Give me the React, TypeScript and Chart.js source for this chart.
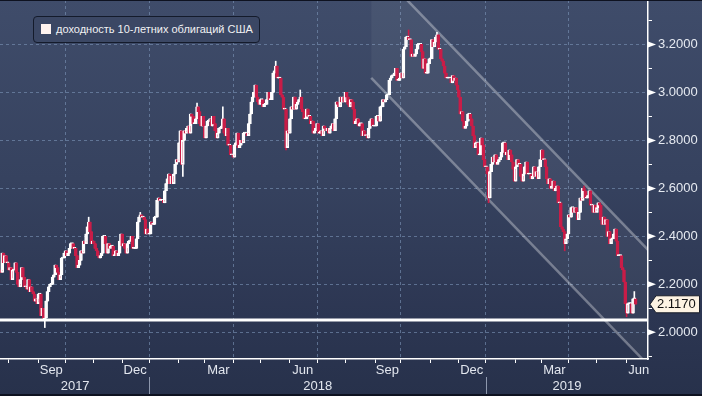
import React, { useEffect, useRef } from "react";
import { Chart, registerables } from "chart.js";

Chart.register(...registerables);

// ---------------- DATA ----------------
// US 10-year yield, daily closes in hundredths of a percent (226 = 2.26%)
const firstDate = "2017-07-24";
const calendarEnd = "2019-06-28";
const firstOpen = 226;

const closesJul2017 = [225, 233, 229, 232, 229, 229];
const closesAug2017 = [226, 227, 222, 226, 226, 229, 225, 220, 219, 222, 227, 223, 219, 219, 218, 222, 217, 219, 217, 216, 213, 214, 212];
const closesSep2017 = [216, 216, 207, 210, 205, 206, 213, 217, 219, 220, 220, 223, 224, 228, 227, 225, 222, 224, 231, 231, 233];
const closesOct2017 = [234, 232, 233, 235, 237, 237, 235, 235, 232, 227, 228, 230, 234, 233, 238, 237, 241, 244, 246, 242, 237, 238];
const closesNov2017 = [237, 235, 234, 232, 231, 232, 233, 240, 240, 237, 233, 237, 235, 236, 236, 232, 232, 234, 232, 233, 238, 241];
const closesDec2017 = [236, 237, 235, 233, 237, 238, 238, 240, 235, 235, 235, 239, 246, 248, 249, 248, 248, 247, 241, 243, 241];
const closesJan2018 = [241, 246, 245, 245, 248, 248, 255, 256, 255, 255, 255, 254, 259, 262, 264, 266, 262, 265, 262, 266, 270, 272, 271];
const closesFeb2018 = [279, 284, 270, 280, 284, 283, 285, 286, 283, 291, 290, 287, 287, 289, 294, 292, 287, 286, 290, 286];
const closesMar2018 = [281, 286, 288, 288, 289, 286, 290, 287, 284, 281, 283, 285, 285, 286, 289, 283, 282, 285, 278, 278, 274, 274];
const closesApr2018 = [273, 278, 279, 283, 277, 278, 280, 279, 283, 283, 283, 282, 287, 291, 296, 298, 300, 303, 298, 296, 295];
const closesMay2018 = [297, 297, 294, 295, 295, 297, 300, 297, 297, 300, 308, 309, 311, 306, 306, 306, 299, 298, 293, 293, 277, 284, 283];
const closesJun2018 = [289, 294, 293, 298, 293, 295, 296, 297, 298, 293, 292, 289, 289, 293, 290, 290, 287, 288, 283, 284, 285];
const closesJul2018 = [287, 283, 283, 284, 282, 286, 285, 284, 285, 283, 285, 286, 287, 284, 289, 296, 295, 294, 298, 296, 298, 296];
const closesAug2018 = [300, 298, 295, 294, 297, 296, 293, 287, 288, 289, 286, 287, 287, 282, 284, 282, 282, 281, 285, 288, 289, 286, 286];
const closesSep2018 = [286, 290, 290, 288, 294, 294, 297, 296, 297, 299, 299, 305, 306, 307, 307, 308, 310, 305, 305, 306];
const closesOct2018 = [308, 306, 318, 319, 323, 323, 322, 322, 315, 316, 315, 316, 318, 320, 320, 320, 317, 310, 314, 308, 308, 312, 314];
const closesNov2018 = [314, 322, 319, 321, 323, 324, 318, 318, 314, 313, 311, 308, 306, 306, 306, 306, 304, 307, 305, 306, 303, 301];
const closesDec2018 = [298, 291, 292, 288, 285, 286, 288, 291, 291, 289, 286, 282, 277, 279, 279, 274, 274, 281, 278, 272, 269];
const closesJan2019 = [269, 266, 256, 267, 270, 273, 271, 274, 270, 271, 272, 273, 275, 279, 279, 274, 275, 272, 276, 274, 271, 268, 263];
const closesFeb2019 = [269, 272, 270, 270, 265, 263, 266, 269, 271, 266, 266, 266, 264, 265, 269, 265, 267, 264, 269, 272];
const closesMar2019 = [276, 272, 272, 269, 264, 262, 264, 260, 261, 263, 259, 260, 261, 254, 254, 244, 243, 242, 237, 239, 241];
const closesApr2019 = [249, 248, 252, 252, 250, 252, 250, 247, 250, 256, 255, 260, 259, 256, 256, 257, 259, 253, 253, 250, 253, 250];
const closesMay2019 = [252, 254, 253, 247, 245, 248, 245, 247, 240, 242, 237, 239, 239, 241, 243, 238, 232, 232, 232, 227, 226, 221, 212];
const closesJun2019 = [208, 212, 212, 212, 208, 214, 214, 211.7];

const monthlyCloses: [string, number[]][] = [
  ["2017-07", closesJul2017], ["2017-08", closesAug2017], ["2017-09", closesSep2017],
  ["2017-10", closesOct2017], ["2017-11", closesNov2017], ["2017-12", closesDec2017],
  ["2018-01", closesJan2018], ["2018-02", closesFeb2018], ["2018-03", closesMar2018],
  ["2018-04", closesApr2018], ["2018-05", closesMay2018], ["2018-06", closesJun2018],
  ["2018-07", closesJul2018], ["2018-08", closesAug2018], ["2018-09", closesSep2018],
  ["2018-10", closesOct2018], ["2018-11", closesNov2018], ["2018-12", closesDec2018],
  ["2019-01", closesJan2019], ["2019-02", closesFeb2019], ["2019-03", closesMar2019],
  ["2019-04", closesApr2019], ["2019-05", closesMay2019], ["2019-06", closesJun2019],
];

// intraday extremes that stick out of the bodies (yield, %)
const wickHighs: [string, number][] = [
  ["2017-10-26", 2.48], ["2017-12-21", 2.5], ["2018-02-21", 2.955], ["2018-03-21", 2.94],
  ["2018-05-17", 3.13], ["2018-06-13", 3.01], ["2018-10-09", 3.26], ["2018-11-08", 3.25],
  ["2019-04-17", 2.61], ["2019-06-11", 2.17],
];
const wickLows: [string, number][] = [
  ["2017-09-08", 2.02], ["2018-02-06", 2.65], ["2018-05-29", 2.76], ["2019-01-03", 2.54],
  ["2019-03-27", 2.34], ["2019-06-03", 2.065],
];

// annotations
const supportLevel = 2.052;
const channelDates = ["2018-08-29", "2019-06-26"];
const channelLowerValues = [3.06, 1.862];
const channelUpperValues = [3.54, 2.342];

// axis ticks / labels
const yMajorTicks = [2.0, 2.2, 2.4, 2.6, 2.8, 3.0, 3.2];
const yMinorTicks = [1.9, 2.1, 2.3, 2.5, 2.7, 2.9, 3.1, 3.3];
const monthNames = ["Jan", "Feb", "Mar", "Apr", "May", "Jun", "Jul", "Aug", "Sep", "Oct", "Nov", "Dec"];
const labelledMonths = ["Sep", "Dec", "Mar", "Jun"];
const gridMonths = ["Jan", "Apr", "Jul", "Oct"];
const legendLabel = "доходность 10-летних облигаций США";

// ---------------- LAYOUT / STYLE ----------------
const W = 702;
const H = 396;
const X_MIN = -0.75;
const X_MAX = 501.6;
const Y_MIN = 1.889;
const Y_MAX = 3.385;
const RED = "#c91d48";
const GRID = "rgba(125,150,185,0.6)";
const FONT = '"Liberation Sans", Arial, sans-serif';

// ---------------- BUILD ----------------
function buildCalendar(startIso: string, endIso: string): string[] {
  const out: string[] = [];
  const [sy, sm, sd] = startIso.split("-").map(Number);
  const [ey, em, ed] = endIso.split("-").map(Number);
  let t = Date.UTC(sy, sm - 1, sd);
  const end = Date.UTC(ey, em - 1, ed);
  while (t <= end) {
    const d = new Date(t);
    const wd = d.getUTCDay();
    if (wd !== 0 && wd !== 6) out.push(d.toISOString().slice(0, 10));
    t += 86400000;
  }
  return out;
}

const calendar = buildCalendar(firstDate, calendarEnd);
const dateIndex = new Map<string, number>(calendar.map((d, i) => [d, i]));

type Candle = { i: number; date: string; o: number; h: number; l: number; c: number };
const candles: Candle[] = [];
{
  let prev = firstOpen / 100;
  for (const [ym, closes] of monthlyCloses) {
    const days = calendar.filter((d) => d.startsWith(ym));
    closes.forEach((bp, k) => {
      const date = days[k];
      if (!date) return;
      const c = bp / 100;
      const o = prev;
      candles.push({ i: dateIndex.get(date)!, date, o, c, h: Math.max(o, c), l: Math.min(o, c) });
      prev = c;
    });
  }
  const byDate = new Map(candles.map((k) => [k.date, k]));
  wickHighs.forEach(([d, v]) => { const k = byDate.get(d); if (k) k.h = Math.max(k.h, v); });
  wickLows.forEach(([d, v]) => { const k = byDate.get(d); if (k) k.l = Math.min(k.l, v); });
}
const lastClose = candles[candles.length - 1].c;

type Span = { key: string; first: number; last: number; month: number; year: number };
const monthSpans: Span[] = [];
calendar.forEach((d, i) => {
  const key = d.slice(0, 7);
  const cur = monthSpans[monthSpans.length - 1];
  if (cur && cur.key === key) cur.last = i;
  else monthSpans.push({ key, first: i, last: i, month: Number(d.slice(5, 7)) - 1, year: Number(d.slice(0, 4)) });
});
const monthTicks = monthSpans.slice(1).map((m) => m.first);
const quarterTicks = new Set(monthSpans.slice(1).filter((m) => gridMonths.includes(monthNames[m.month])).map((m) => m.first));
const years = Array.from(new Set(monthSpans.map((m) => m.year)));
const yearSpans = years.map((y) => {
  const ms = monthSpans.filter((m) => m.year === y);
  const first = ms[0].first;
  const next = monthSpans.find((m) => m.year === y + 1);
  return { year: y, start: Math.max(X_MIN, first), end: Math.min(X_MAX, next ? next.first : ms[ms.length - 1].last) , boundary: first };
});

const isMajor = (v: number) => yMajorTicks.some((m) => Math.abs(m - v) < 1e-6);

const overlayPlugin = {
  id: "bbgOverlay",
  afterDraw(chart: any) {
    const { ctx, chartArea, scales } = chart;
    const x = scales.x;
    const y = scales.y;
    ctx.save();
    // month labels
    ctx.font = `13px ${FONT}`;
    ctx.fillStyle = "#e2e6ee";
    ctx.textAlign = "center";
    ctx.textBaseline = "middle";
    for (const m of monthSpans) {
      const name = monthNames[m.month];
      if (!labelledMonths.includes(name)) continue;
      const px = x.getPixelForValue((m.first + m.last) / 2);
      if (px < chartArea.left || px > chartArea.right) continue;
      ctx.fillText(name, px, chartArea.bottom + 11.5);
    }
    // year labels
    for (const ys of yearSpans) {
      const px = x.getPixelForValue((ys.start + ys.end) / 2);
      ctx.fillText(String(ys.year), px, chartArea.bottom + 27);
    }
    // year separators
    ctx.strokeStyle = "rgba(175,185,205,0.75)";
    ctx.lineWidth = 1;
    for (const ys of yearSpans.slice(1)) {
      const px = Math.round(x.getPixelForValue(ys.boundary)) + 0.5;
      ctx.beginPath();
      ctx.moveTo(px, chartArea.bottom + 18);
      ctx.lineTo(px, H);
      ctx.stroke();
    }
    // major tick arrows on the value axis
    ctx.fillStyle = "#ffffff";
    for (const v of yMajorTicks) {
      const py = y.getPixelForValue(v);
      ctx.beginPath();
      ctx.moveTo(chartArea.right, py - 3);
      ctx.lineTo(chartArea.right + 8, py);
      ctx.lineTo(chartArea.right, py + 3);
      ctx.closePath();
      ctx.fill();
    }
    // last price tag
    const py = y.getPixelForValue(lastClose);
    const left = chartArea.right + 2;
    ctx.beginPath();
    ctx.moveTo(left, py);
    ctx.lineTo(left + 6, py - 8.5);
    ctx.lineTo(W - 2.5, py - 8.5);
    ctx.lineTo(W - 2.5, py + 8.5);
    ctx.lineTo(left + 6, py + 8.5);
    ctx.closePath();
    ctx.fillStyle = "#fdf3e3";
    ctx.fill();
    ctx.strokeStyle = "#1b1f2a";
    ctx.lineWidth = 1;
    ctx.stroke();
    ctx.fillStyle = "#111111";
    ctx.textAlign = "left";
    ctx.font = `13px ${FONT}`;
    ctx.fillText(lastClose.toFixed(4), left + 7, py + 0.5);
    ctx.restore();
  },
};

export default function App() {
  const canvasRef = useRef<HTMLCanvasElement | null>(null);

  useEffect(() => {
    const canvas = canvasRef.current;
    if (!canvas) return;
    const channelX = channelDates.map((d) => dateIndex.get(d)!);

    const chart = new Chart(canvas, {
      type: "bar",
      data: {
        datasets: [
          {
            type: "line",
            label: "support",
            order: 0,
            data: [{ x: X_MIN, y: supportLevel }, { x: X_MAX, y: supportLevel }],
            borderColor: "#ffffff",
            borderWidth: 3,
            pointRadius: 0,
            clip: 0,
          } as any,
          {
            type: "bar",
            label: "body",
            order: 1,
            data: candles.map((k) => ({ x: k.i, y: [Math.min(k.o, k.c), Math.max(k.o, k.c)] })),
            backgroundColor: candles.map((k) => (k.c >= k.o ? "rgba(0,0,0,0)" : RED)),
            borderColor: candles.map((k) => (k.c >= k.o ? "#ffffff" : RED)),
            borderWidth: 1,
            borderSkipped: false,
            barThickness: 3,
            minBarLength: 1,
            grouped: false,
          } as any,
          {
            type: "bar",
            label: "wick",
            order: 2,
            data: candles.map((k) => ({ x: k.i, y: [k.l, k.h] })),
            backgroundColor: candles.map((k) => (k.c >= k.o ? "#ffffff" : RED)),
            borderWidth: 0,
            barThickness: 1,
            grouped: false,
          } as any,
          {
            type: "line",
            label: "channel upper",
            order: 3,
            data: channelX.map((x, j) => ({ x, y: channelUpperValues[j] })),
            borderColor: "rgba(255,255,255,0.33)",
            borderWidth: 2.5,
            pointRadius: 0,
            fill: { target: "+1", above: "rgba(255,255,255,0.05)", below: "rgba(255,255,255,0.05)" },
            clip: 0,
          } as any,
          {
            type: "line",
            label: "channel lower",
            order: 4,
            data: channelX.map((x, j) => ({ x, y: channelLowerValues[j] })),
            borderColor: "rgba(255,255,255,0.33)",
            borderWidth: 2.5,
            pointRadius: 0,
            clip: 0,
          } as any,
        ],
      },
      options: {
        responsive: false,
        animation: false,
        devicePixelRatio: 1,
        events: [],
        layout: { padding: 0 },
        plugins: { legend: { display: false }, tooltip: { enabled: false } },
        scales: {
          x: {
            type: "linear",
            position: "bottom",
            min: X_MIN,
            max: X_MAX,
            offset: false,
            afterBuildTicks: (s: any) => {
              s.ticks = monthTicks.map((v) => ({ value: v }));
            },
            afterFit: (s: any) => {
              s.height = 37;
              s.paddingLeft = 0;
              s.paddingRight = 0;
            },
            ticks: { display: false, autoSkip: false },
            grid: {
              offset: false,
              drawTicks: true,
              tickLength: 4,
              tickColor: "#ffffff",
              lineWidth: 1,
              color: (c: any) => (c.tick && quarterTicks.has(c.tick.value) ? GRID : "rgba(0,0,0,0)"),
            },
            border: { display: true, color: "#ffffff", width: 1.5, dash: [3, 3] },
          },
          y: {
            type: "linear",
            position: "right",
            min: Y_MIN,
            max: Y_MAX,
            afterBuildTicks: (s: any) => {
              s.ticks = [...yMajorTicks, ...yMinorTicks].sort((a, b) => a - b).map((v) => ({ value: v }));
            },
            afterFit: (s: any) => {
              s.width = W - 648;
              s.paddingTop = 0;
              s.paddingBottom = 0;
            },
            ticks: {
              autoSkip: false,
              padding: 6,
              color: "#e6eaf1",
              font: { family: FONT, size: 13 },
              callback: (v: any) => (isMajor(Number(v)) ? Number(v).toFixed(4) : ""),
            },
            grid: {
              drawTicks: true,
              tickLength: 4,
              lineWidth: 1,
              tickColor: (c: any) => (c.tick && isMajor(c.tick.value) ? "rgba(0,0,0,0)" : "#ffffff"),
              color: (c: any) => (c.tick && isMajor(c.tick.value) ? GRID : "rgba(0,0,0,0)"),
            },
            border: { display: true, color: "#ffffff", width: 1.5, dash: [3, 3] },
          },
        },
      } as any,
      plugins: [overlayPlugin as any],
    });
    return () => chart.destroy();
  }, []);

  return (
    <div
      style={{
        position: "fixed",
        left: 0,
        top: 0,
        width: W,
        height: H,
        overflow: "hidden",
        background: "linear-gradient(180deg, #3f4c6a 0%, #36425f 45%, #2c3652 80%, #27314b 100%)",
      }}
    >
      <canvas ref={canvasRef} width={W} height={H} style={{ position: "absolute", left: 0, top: 0, width: W, height: H }} />
      <div
        style={{
          position: "absolute",
          left: 33,
          top: 16,
          width: 227,
          height: 27,
          boxSizing: "border-box",
          border: "1px solid #141b2b",
          borderRadius: 4,
          background: "#3b4764",
        }}
      >
        <div style={{ position: "absolute", left: 7, top: 7, width: 10, height: 10, background: "#fff3ef" }} />
        <div
          style={{
            position: "absolute",
            left: 22,
            top: 6,
            fontFamily: FONT,
            fontSize: 11,
            lineHeight: "13px",
            color: "#f1f1f3",
            whiteSpace: "nowrap",
          }}
        >
          {legendLabel}
        </div>
      </div>
      <div style={{ position: "absolute", left: 0, top: 0, width: W, height: 1, background: "#0e1220" }} />
      <div style={{ position: "absolute", left: 0, top: H - 2, width: W, height: 2, background: "#0e1220" }} />
    </div>
  );
}
